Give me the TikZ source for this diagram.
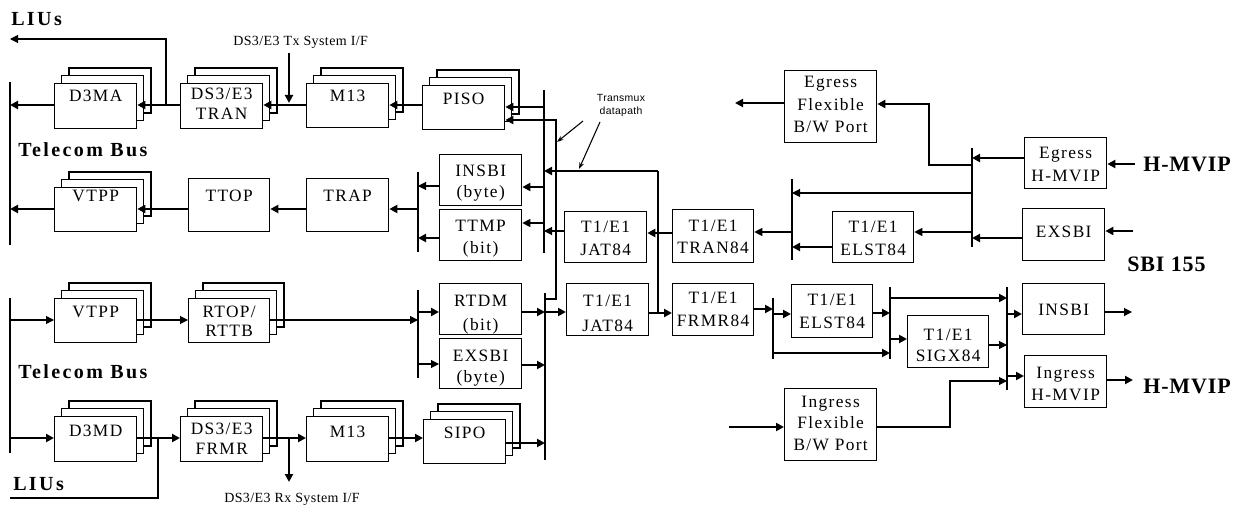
\documentclass[tikz,border=0pt]{standalone}
\usepackage{fontspec}
\setmainfont{Liberation Serif}
\newfontfamily\lblf[LetterSpace=8]{Liberation Serif}
\newfontfamily\bigf[LetterSpace=12]{Liberation Serif}
\newfontfamily\hmf[LetterSpace=4]{Liberation Serif}
\newfontfamily\sysf[LetterSpace=3]{Liberation Serif}
\newfontfamily\tmf[LetterSpace=3]{Liberation Sans}
\usetikzlibrary{arrows.meta}
\newcommand{\mybox}[5]{\node[boxn,minimum width=#4*0.75pt,minimum height=#5*0.75pt] (#1) at (#2,#3) {};}
\newcommand{\mystk}[5]{\draw[boxl] (#2+15,#3-15) rectangle ++(#4,#5); \draw[boxl] (#2+7.5,#3-7.5) rectangle ++(#4,#5); \mybox{#1}{#2}{#3}{#4}{#5}}
\newcommand{\lb}[4]{\node[lbl] (#1) at (#2.north |- 0,#3) {#4};}
\begin{document}
\begin{tikzpicture}[x=0.75pt,y=-0.75pt,
  boxl/.style={draw,line width=1pt,fill=white},
  boxn/.style={draw,line width=1pt,fill=white,inner sep=0pt,anchor=north west,rectangle},
  lbl/.style={anchor=base,inner sep=0pt,font=\lblf\fontsize{13}{15}\selectfont},
  big/.style={anchor=base west,inner sep=0pt,font=\bigf\bfseries\fontsize{15}{17}\selectfont},
  hm/.style={anchor=base west,inner sep=0pt,font=\hmf\bfseries\fontsize{16.5}{18}\selectfont},
  sys/.style={anchor=base west,inner sep=0pt,font=\sysf\fontsize{10.5}{12}\selectfont},
  tm/.style={anchor=base,inner sep=0pt,font=\tmf\fontsize{7.8}{9}\selectfont},
  T/.style={line width=1.6pt},
  t/.style={line width=0.8pt},
  ar/.style={-{Triangle[length=6pt,width=6pt]}},
  sar/.style={-{Stealth[length=5pt,width=3.5pt]}}]
\useasboundingbox (0,0) rectangle (1246,506);

% ---------- boxes ----------
\mystk{d3ma}{54}{83}{82}{45}
\mystk{tran}{180}{83}{82}{45}
\mystk{m13a}{306}{83}{82}{44}
\mystk{piso}{422}{85}{82}{44}
\mystk{vtppa}{54}{187}{82}{44}
\mybox{ttop}{188}{178}{81}{53}
\mybox{trap}{306}{178}{82}{53}
\mybox{insbia}{439}{154}{82}{51}
\mybox{ttmp}{439}{209}{82}{51}
\mybox{jata}{564}{211}{82}{51}
\mybox{tran84}{672}{209}{81}{53}
\mybox{elsta}{832}{211}{81}{51}
\mybox{egf}{784}{70}{92}{72}
\mybox{eghm}{1024}{137}{82}{51}
\mybox{exsbib}{1022}{208}{82}{52}
\mystk{vtppb}{54}{298}{82}{44}
\mystk{rtop}{188}{298}{81}{44}
\mystk{d3md}{54}{416}{82}{45}
\mystk{frmr}{180}{416}{82}{45}
\mystk{m13b}{306}{416}{82}{45}
\mystk{sipo}{423}{419}{82}{44}
\mybox{rtdm}{439}{283}{82}{51}
\mybox{exsbia}{439}{338}{82}{50}
\mybox{jatb}{566}{283}{82}{52}
\mybox{frmr84}{672}{283}{81}{52}
\mybox{elstb}{791}{284}{81}{53}
\mybox{sigx}{907}{315}{81}{52}
\mybox{insbib}{1022}{283}{82}{51}
\mybox{inhm}{1024}{355}{82}{52}
\mybox{inf}{784}{388}{92}{72}

% ---------- box labels ----------
\lb{d3ma-a}{d3ma}{102}{D3MA}
\lb{tran-a}{tran}{100}{DS3/E3}
\lb{tran-b}{tran}{120}{TRAN}
\lb{m13a-a}{m13a}{102}{M13}
\lb{piso-a}{piso}{105}{PISO}
\lb{vtppa-a}{vtppa}{202}{VTPP}
\lb{ttop-a}{ttop}{202}{TTOP}
\lb{trap-a}{trap}{202}{TRAP}
\lb{insbia-a}{insbia}{177}{INSBI}
\lb{insbia-b}{insbia}{198}{(byte)}
\lb{ttmp-a}{ttmp}{232}{TTMP}
\lb{ttmp-b}{ttmp}{253}{(bit)}
\lb{jata-a}{jata}{233}{T1/E1}
\lb{jata-b}{jata}{255}{JAT84}
\lb{tran84-a}{tran84}{232}{T1/E1}
\lb{tran84-b}{tran84}{253}{TRAN84}
\lb{elsta-a}{elsta}{233}{T1/E1}
\lb{elsta-b}{elsta}{255}{ELST84}
\lb{egf-a}{egf}{88}{Egress}
\lb{egf-b}{egf}{111}{Flexible}
\lb{egf-c}{egf}{133}{B/W Port}
\lb{eghm-a}{eghm}{159}{Egress}
\lb{eghm-b}{eghm}{182}{H-MVIP}
\lb{exsbib-a}{exsbib}{238}{EXSBI}
\lb{vtppb-a}{vtppb}{317}{VTPP}
\lb{rtop-a}{rtop}{317}{RTOP/}
\lb{rtop-b}{rtop}{336}{RTTB}
\lb{d3md-a}{d3md}{436}{D3MD}
\lb{frmr-a}{frmr}{434}{DS3/E3}
\lb{frmr-b}{frmr}{454}{FRMR}
\lb{m13b-a}{m13b}{437}{M13}
\lb{sipo-a}{sipo}{438}{SIPO}
\lb{rtdm-a}{rtdm}{306}{RTDM}
\lb{rtdm-b}{rtdm}{330}{(bit)}
\lb{exsbia-a}{exsbia}{361}{EXSBI}
\lb{exsbia-b}{exsbia}{382}{(byte)}
\lb{jatb-a}{jatb}{306}{T1/E1}
\lb{jatb-b}{jatb}{331}{JAT84}
\lb{frmr84-a}{frmr84}{303}{T1/E1}
\lb{frmr84-b}{frmr84}{326}{FRMR84}
\lb{elstb-a}{elstb}{305}{T1/E1}
\lb{elstb-b}{elstb}{328}{ELST84}
\lb{sigx-a}{sigx}{340}{T1/E1}
\lb{sigx-b}{sigx}{361}{SIGX84}
\lb{insbib-a}{insbib}{315}{INSBI}
\lb{inhm-a}{inhm}{378}{Ingress}
\lb{inhm-b}{inhm}{400}{H-MVIP}
\lb{inf-a}{inf}{407}{Ingress}
\lb{inf-b}{inf}{428}{Flexible}
\lb{inf-c}{inf}{450}{B/W Port}

% ---------- free labels ----------
\node[big] (liu1) at (11,26) {LIUs};
\node[big] (tb1) at (18,157) {Telecom Bus};
\node[big] (tb2) at (18,378) {Telecom Bus};
\node[big] (liu2) at (13,490) {LIUs};
\node[hm] (hm1) at (1143,172) {H-MVIP};
\node[hm] (sbi) at (1127,271) {SBI 155};
\node[hm] (hm2) at (1143,393) {H-MVIP};
\node[sys] (txif) at (233,46) {DS3/E3 Tx System I/F};
\node[sys] (rxif) at (224,502) {DS3/E3 Rx System I/F};
\node[tm] (tm1) at (621,102) {Transmux};
\node[tm] (tm2) at (621,115) {datapath};

% ---------- bus coordinates ----------
\coordinate (bL) at (10,0);
\coordinate (sbU) at (418,0);
\coordinate (busU) at (544,0);
\coordinate (lp) at (556,0);
\coordinate (busD) at (545,0);
\coordinate (bT) at (792,0);
\coordinate (bR) at (972,0);
\coordinate (b1) at (773,0);
\coordinate (b2) at (890,0);
\coordinate (b3) at (1007,0);
\coordinate (sbD) at (418,0);
\coordinate (tp) at (658,0);
\coordinate (egj) at (929,0);
\coordinate (inj) at (950,0);

% bars
\draw[T] (bL |- 0,82) -- (bL |- 0,245);
\draw[T] (bL |- 0,298) -- (bL |- 0,453);
\draw[T] (sbU |- 0,172) -- (sbU |- 0,252);
\draw[T] (busU |- 0,90) -- (busU |- 0,253);
\draw[T] (busD |- 0,293) -- (busD |- 0,460);
\draw[T] (sbD |- 0,290) -- (sbD |- 0,378);
\draw[T] (bT |- 0,179) -- (bT |- 0,260);
\draw[T] (bR |- 0,148) -- (bR |- 0,247);
\draw[T] (b1 |- 0,298) -- (b1 |- 0,359);
\draw[T] (b2 |- 0,287) -- (b2 |- 0,359);
\draw[T] (b3 |- 0,287) -- (b3 |- 0,390);

% ---------- upper connectors ----------
\coordinate (jA) at (166,105);
\coordinate (liuA) at (10,39);
\draw[t,ar] (jA) |- (liuA);
\draw[T,ar] (d3ma.west |- 0,105) -- (bL |- 0,105);
\draw[T,ar] (tran.west |- 0,105) -- (d3ma.east |- 0,105);
\draw[T,ar] (m13a.west |- 0,105) -- (tran.east |- 0,105);
\coordinate (txS) at (289,53);
\draw[T,ar] (txS) -- (txS |- 0,103);
\draw[T,ar] (piso.west |- 0,105) -- (m13a.east |- 0,105);
\draw[T,ar] (busU |- 0,107) -- (piso.east |- 0,107);
\draw[T,ar] (busD |- 0,299) -- (lp |- 0,299) -- (lp |- 0,120) -- (piso.east |- 0,120);
\draw[T,ar] (vtppa.west |- 0,209) -- (bL |- 0,209);
\draw[T,ar] (ttop.west |- 0,209) -- (vtppa.east |- 0,209);
\draw[T,ar] (trap.west |- 0,209) -- (ttop.east |- 0,209);
\draw[T,ar] (sbU |- 0,209) -- (trap.east |- 0,209);
\draw[t,ar] (insbia.west |- 0,186) -- (sbU |- 0,186);
\draw[T,ar] (ttmp.west |- 0,238) -- (sbU |- 0,238);
\draw[T,ar] (busU |- 0,187) -- (insbia.east |- 0,187);
\draw[t,ar] (busU |- 0,223) -- (ttmp.east |- 0,223);
\draw[t] (tp |- 0,313) -- (tp |- 0,171);
\draw[T,ar] (tp |- 0,171) -- (busU |- 0,171);
\draw[t,ar] (jata.west |- 0,231) -- (busU |- 0,231);
\draw[T,ar] (tran84.west |- 0,233) -- (jata.east |- 0,233);
\draw[t,ar] (bT |- 0,232) -- (tran84.east |- 0,232);
\draw[T,ar] (elsta.west |- 0,247) -- (bT |- 0,247);
\draw[t,ar] (bR |- 0,193) -- (bT |- 0,193);
\draw[t,ar] (bR |- 0,232) -- (elsta.east |- 0,232);
\draw[T,ar] (bR |- 0,165) -- (egj |- 0,165) -- (egj |- 0,104) -- (egf.east |- 0,104);
\coordinate (egO) at (735,103);
\draw[T,ar] (egf.west |- 0,103) -- (egO);
\draw[T,ar] (eghm.west |- 0,158) -- (bR |- 0,158);
\draw[T,ar] (hm1.west |- 0,164) ++(-8,0) -- (eghm.east |- 0,164);
\draw[T,ar] (exsbib.west |- 0,238) -- (bR |- 0,238);
\coordinate (sbiI) at (1133,231);
\draw[T,ar] (sbiI) -- (exsbib.east |- sbiI);
% transmux pointers
\coordinate (tmA) at (583,121);
\coordinate (tmB) at (600,122);
\draw[t,sar] (tmA) -- (557,142);
\draw[t,sar] (tmB) -- (579,169);

% ---------- lower connectors ----------
\draw[t,ar] (bL |- 0,320) -- (vtppb.west |- 0,320);
\draw[t,ar] (vtppb.east |- 0,320) -- (rtop.west |- 0,320);
\draw[t,ar] (rtop.east |- 0,320) -- (sbD |- 0,320);
\draw[T,ar] (sbD |- 0,312) -- (rtdm.west |- 0,312);
\draw[t,ar] (sbD |- 0,364) -- (exsbia.west |- 0,364);
\draw[T,ar] (rtdm.east |- 0,312) -- (busD |- 0,312);
\draw[T,ar] (exsbia.east |- 0,365) -- (busD |- 0,365);
\draw[T,ar] (busD |- 0,312) -- (jatb.west |- 0,312);
\draw[T,ar] (sipo.east |- 0,443) -- (busD |- 0,443);
\draw[T,ar] (m13b.east |- 0,438) -- (sipo.west |- 0,438);
\draw[T,ar] (frmr.east |- 0,438) -- (m13b.west |- 0,438);
\coordinate (rxE) at (289,482);
\draw[T,ar] (rxE |- 0,438) -- (rxE);
\draw[T,ar] (d3md.east |- 0,438) -- (frmr.west |- 0,438);
\draw[T,ar] (bL |- 0,438) -- (d3md.west |- 0,438);
\coordinate (jB) at (158,438);
\coordinate (liuB) at (10,498);
\draw[t] (jB) |- (liuB);
\draw[T,ar] (jatb.east |- 0,313) -- (frmr84.west |- 0,313);
\draw[T,ar] (frmr84.east |- 0,309) -- (b1 |- 0,309);
\draw[T,ar] (b1 |- 0,314) -- (elstb.west |- 0,314);
\draw[T,ar] (b1 |- 0,353) -- (b2 |- 0,353);
\draw[T,ar] (elstb.east |- 0,313) -- (b2 |- 0,313);
\draw[T,ar] (b2 |- 0,298) -- (b3 |- 0,298);
\draw[T,ar] (b2 |- 0,339) -- (sigx.west |- 0,339);
\draw[t,ar] (sigx.east |- 0,345) -- (b3 |- 0,345);
\draw[T,ar] (b3 |- 0,314) -- (insbib.west |- 0,314);
\coordinate (insO) at (1132,312);
\draw[t,ar] (insbib.east |- insO) -- (insO);
\draw[T,ar] (b3 |- 0,376) -- (inhm.west |- 0,376);
\coordinate (hmO) at (1133,380);
\draw[T,ar] (inhm.east |- hmO) -- (hmO);
\coordinate (infI) at (729,427);
\draw[T,ar] (infI) -- (inf.west |- infI);
\draw[t,ar] (inf.east |- 0,427) -- (inj |- 0,427) -- (inj |- 0,381) -- (b3 |- 0,381);
\end{tikzpicture}
\end{document}
